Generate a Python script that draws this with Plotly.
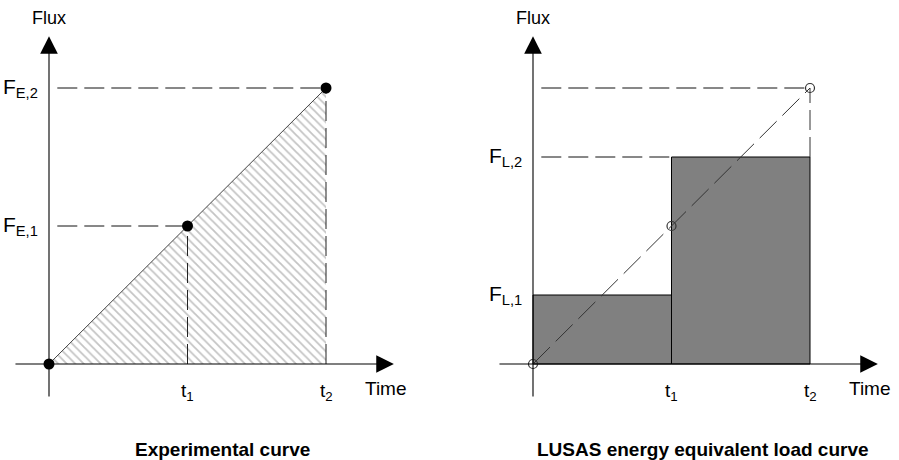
import plotly.graph_objects as go

# ---- data -------------------------------------------------------------
TIMES = [0, 1, 2]                 # 0, t1, t2
FLUX_EXP = [0, 1, 2]              # 0, F_E,1, F_E,2
FLUX_LOAD = [0.5, 1.5]            # F_L,1, F_L,2 (energy-equivalent steps)
TIME_LABELS = ["t<sub>1</sub>", "t<sub>2</sub>"]
EXP_LABELS = ["F<sub>E,1</sub>", "F<sub>E,2</sub>"]
LOAD_LABELS = ["F<sub>L,1</sub>", "F<sub>L,2</sub>"]
PANEL_TITLES = ["Experimental curve", "LUSAS energy equivalent load curve"]
AXIS_NAMES = ["Time", "Flux"]

# ---- geometry / style ---------------------------------------------------
W, H = 899, 460
PX_X, PX_Y = 138.5, 138.0        # pixels per data unit
ORIGIN_PX = [49, 533]            # x pixel of each panel origin
ORIGIN_PY = 364                  # y pixel of the time axis
AX_X_MIN, AX_X_MAX = -0.253, 2.49
AX_Y_MIN, AX_Y_MAX = -0.246, 2.375
GUIDE_GAP = 0.06
FONT = "Liberation Sans, Arial, sans-serif"
DASH = "20px,7px"

fig = go.Figure()

xa = ["x", "x2"]
ya = ["y", "y2"]

# ---- left panel: experimental curve ---------------------------------------
fig.add_trace(go.Scatter(
    x=[TIMES[0], TIMES[2], TIMES[2], TIMES[0]],
    y=[FLUX_EXP[0], FLUX_EXP[2], FLUX_EXP[0], FLUX_EXP[0]],
    mode="lines", fill="toself",
    fillcolor="white",
    fillpattern=dict(shape="\\", fgcolor="#8a8a8a", bgcolor="white",
                     size=6, solidity=0.3),
    line=dict(width=0, color="rgba(0,0,0,0)"),
    xaxis="x", yaxis="y", hoverinfo="skip"))

fig.add_trace(go.Scatter(x=TIMES, y=FLUX_EXP, mode="lines",
                         line=dict(color="#444", width=1),
                         xaxis="x", yaxis="y", hoverinfo="skip"))

for i in (1, 2):
    fig.add_trace(go.Scatter(x=[GUIDE_GAP, TIMES[i]], y=[FLUX_EXP[i]] * 2,
                             mode="lines", line=dict(color="#111", width=1, dash=DASH),
                             xaxis="x", yaxis="y", hoverinfo="skip"))
    fig.add_trace(go.Scatter(x=[TIMES[i]] * 2, y=[FLUX_EXP[0], FLUX_EXP[i]],
                             mode="lines", line=dict(color="#222", width=1, dash=DASH),
                             xaxis="x", yaxis="y", hoverinfo="skip"))

fig.add_trace(go.Scatter(x=TIMES, y=FLUX_EXP, mode="markers",
                         marker=dict(color="black", size=11),
                         xaxis="x", yaxis="y", hoverinfo="skip"))

# ---- right panel: energy-equivalent load steps ----------------------------
mids = [(TIMES[i] + TIMES[i + 1]) / 2 for i in range(len(FLUX_LOAD))]
widths = [TIMES[i + 1] - TIMES[i] for i in range(len(FLUX_LOAD))]
fig.add_trace(go.Bar(x=mids, y=FLUX_LOAD, width=widths,
                     marker=dict(color="#808080", line=dict(color="black", width=1)),
                     xaxis="x2", yaxis="y2", hoverinfo="skip"))

fig.add_trace(go.Scatter(x=[GUIDE_GAP, TIMES[2]], y=[FLUX_EXP[2]] * 2, mode="lines",
                         line=dict(color="#111", width=1, dash=DASH),
                         xaxis="x2", yaxis="y2", hoverinfo="skip"))
fig.add_trace(go.Scatter(x=[GUIDE_GAP, TIMES[1]], y=[FLUX_LOAD[1]] * 2, mode="lines",
                         line=dict(color="#111", width=1, dash=DASH),
                         xaxis="x2", yaxis="y2", hoverinfo="skip"))
fig.add_trace(go.Scatter(x=[TIMES[2]] * 2, y=[FLUX_LOAD[1], FLUX_EXP[2]], mode="lines",
                         line=dict(color="#333", width=1, dash=DASH),
                         xaxis="x2", yaxis="y2", hoverinfo="skip"))
fig.add_trace(go.Scatter(x=TIMES, y=FLUX_EXP, mode="lines",
                         line=dict(color="#333", width=1, dash="24px,8px"),
                         xaxis="x2", yaxis="y2", hoverinfo="skip"))
fig.add_trace(go.Scatter(x=TIMES, y=FLUX_EXP, mode="markers",
                         marker=dict(symbol="circle-open", color="#333", size=9,
                                     line=dict(width=1.2)),
                         xaxis="x2", yaxis="y2", hoverinfo="skip"))

# ---- axes arrows and labels ---------------------------------------------------
ann = []
for k in range(2):
    xr, yr = xa[k], ya[k]
    # horizontal (time) axis
    ann.append(dict(x=AX_X_MAX, y=0, ax=AX_X_MIN, ay=0, xref=xr, yref=yr,
                    axref=xr, ayref=yr, text="", showarrow=True, arrowhead=2,
                    arrowsize=3.2, arrowwidth=1.1, arrowcolor="black", standoff=0))
    # vertical (flux) axis
    ann.append(dict(x=0, y=AX_Y_MAX, ax=0, ay=AX_Y_MIN, xref=xr, yref=yr,
                    axref=xr, ayref=yr, text="", showarrow=True, arrowhead=2,
                    arrowsize=3.2, arrowwidth=1.1, arrowcolor="black", standoff=0))
    ann.append(dict(x=0, y=AX_Y_MAX + 0.135, xref=xr, yref=yr, text=AXIS_NAMES[1],
                    showarrow=False, xanchor="center", yanchor="middle",
                    font=dict(family=FONT, size=18, color="black")))
    ann.append(dict(x=2.435, y=-0.18, xref=xr, yref=yr, text=AXIS_NAMES[0],
                    showarrow=False, xanchor="center", yanchor="middle",
                    font=dict(family=FONT, size=19, color="black")))
    for i, lab in enumerate(TIME_LABELS):
        ann.append(dict(x=TIMES[i + 1], y=0, xref=xr, yref=yr, text=lab,
                        showarrow=False, xanchor="center", yanchor="top", yshift=-14,
                        font=dict(family=FONT, size=19, color="black")))

for i, lab in enumerate(EXP_LABELS):
    ann.append(dict(x=0, y=FLUX_EXP[i + 1], xref="x", yref="y", text=lab,
                    showarrow=False, xanchor="right", yanchor="middle", xshift=-9,
                    font=dict(family=FONT, size=21, color="black")))
for i, lab in enumerate(LOAD_LABELS):
    ann.append(dict(x=0, y=FLUX_LOAD[i], xref="x2", yref="y2", text=lab,
                    showarrow=False, xanchor="right", yanchor="middle", xshift=-9,
                    font=dict(family=FONT, size=21, color="black")))

for k, (title, x0) in enumerate(zip(PANEL_TITLES, [133, 535])):
    ann.append(dict(x=x0 / W, y=1 - 449 / H, xref="paper", yref="paper",
                    text="<b>%s</b>" % title, showarrow=False,
                    xanchor="left", yanchor="middle",
                    font=dict(family=FONT, size=19, color="black")))

# ---- layout -------------------------------------------------------------------------
def xrange_for(k):
    left_px, right_px = k * W / 2, (k + 1) * W / 2
    return [(left_px - ORIGIN_PX[k]) / PX_X, (right_px - ORIGIN_PX[k]) / PX_X]

y_range = [(ORIGIN_PY - H) / PX_Y, ORIGIN_PY / PX_Y]
hidden = dict(visible=False, showgrid=False, zeroline=False, fixedrange=True)

fig.update_layout(
    width=W, height=H,
    margin=dict(l=0, r=0, t=0, b=0),
    paper_bgcolor="white", plot_bgcolor="white",
    showlegend=False,
    xaxis=dict(domain=[0, 0.5], range=xrange_for(0), **hidden),
    xaxis2=dict(domain=[0.5, 1], range=xrange_for(1), **hidden),
    yaxis=dict(domain=[0, 1], range=y_range, anchor="x", **hidden),
    yaxis2=dict(domain=[0, 1], range=y_range, anchor="x2", **hidden),
    annotations=ann,
)

fig.write_html("out.html")
